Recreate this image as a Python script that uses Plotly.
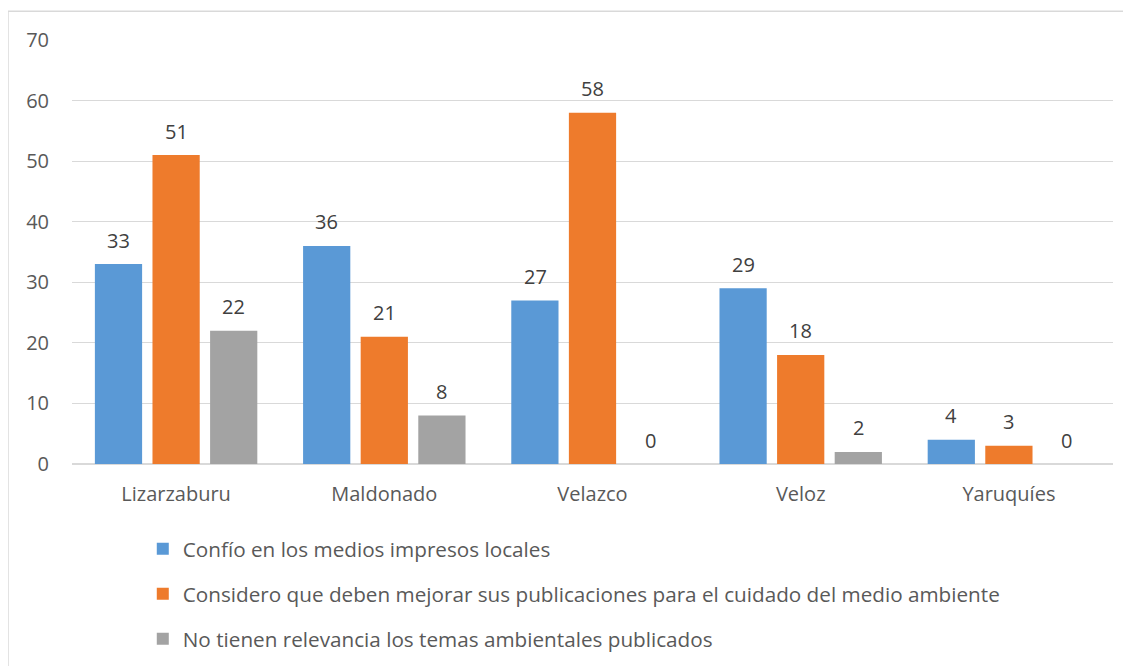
import plotly.graph_objects as go

categories = ["Lizarzaburu", "Maldonado", "Velazco", "Veloz", "Yaruquíes"]
series_names = [
    "Confío en los medios impresos locales",
    "Considero que deben mejorar sus publicaciones para el cuidado del medio ambiente",
    "No tienen relevancia los temas ambientales publicados",
]
confio = [33, 36, 27, 29, 4]
considero = [51, 21, 58, 18, 3]
no_relevancia = [22, 8, 0, 2, 0]
y_ticks = [0, 10, 20, 30, 40, 50, 60, 70]

colors = ["#5A99D6", "#EE7B2C", "#A3A3A3"]
all_values = [confio, considero, no_relevancia]
FONT = "Open Sans"
FS = 20

fig = go.Figure()
for i, (name, vals) in enumerate(zip(series_names, all_values)):
    fig.add_trace(go.Bar(
        x=categories, y=vals, name=name,
        marker=dict(color=colors[i], line=dict(width=0)),
        legendgroup=f"g{i}",
    ))

offsets = [-57.5, 0, 57.5]
for i, vals in enumerate(all_values):
    for c, v in zip(categories, vals):
        fig.add_annotation(x=c, y=v, text=str(v), showarrow=False,
                           xshift=offsets[i], yshift=24,
                           font=dict(family=FONT, size=FS, color="#404040"))

fig.add_shape(type="rect", xref="paper", yref="paper",
              x0=-0.0615, y0=-0.6, x1=1.2, y1=1.068,
              line=dict(color="#D9D9D9", width=1.5), fillcolor="rgba(0,0,0,0)",
              layer="below")

fig.update_layout(
    width=1131, height=666,
    margin=dict(l=64, r=26, t=32, b=210),
    paper_bgcolor="white", plot_bgcolor="white",
    barmode="group", bargap=0.17, bargroupgap=0.18,
    font=dict(family=FONT, color="#595959", size=FS),
    showlegend=True,
    legend=dict(x=0.068, y=-0.153, xanchor="left", yanchor="top",
                orientation="v", tracegroupgap=15,
                font=dict(family=FONT, size=20.7, color="#595959"),
                itemwidth=30),
    xaxis=dict(showgrid=False, showline=False, ticks="",
               tickfont=dict(family=FONT, size=FS, color="#595959"),
               ticklabelstandoff=16),
    yaxis=dict(range=[0, 70], tickvals=y_ticks, showgrid=True,
               gridcolor="#D9D9D9", gridwidth=1, zeroline=True,
               zerolinecolor="#D9D9D9", zerolinewidth=1.5, showline=False,
               ticks="", tickfont=dict(family=FONT, size=FS, color="#595959"),
               ticklabelstandoff=22),
)

fig.write_html("out.html")
